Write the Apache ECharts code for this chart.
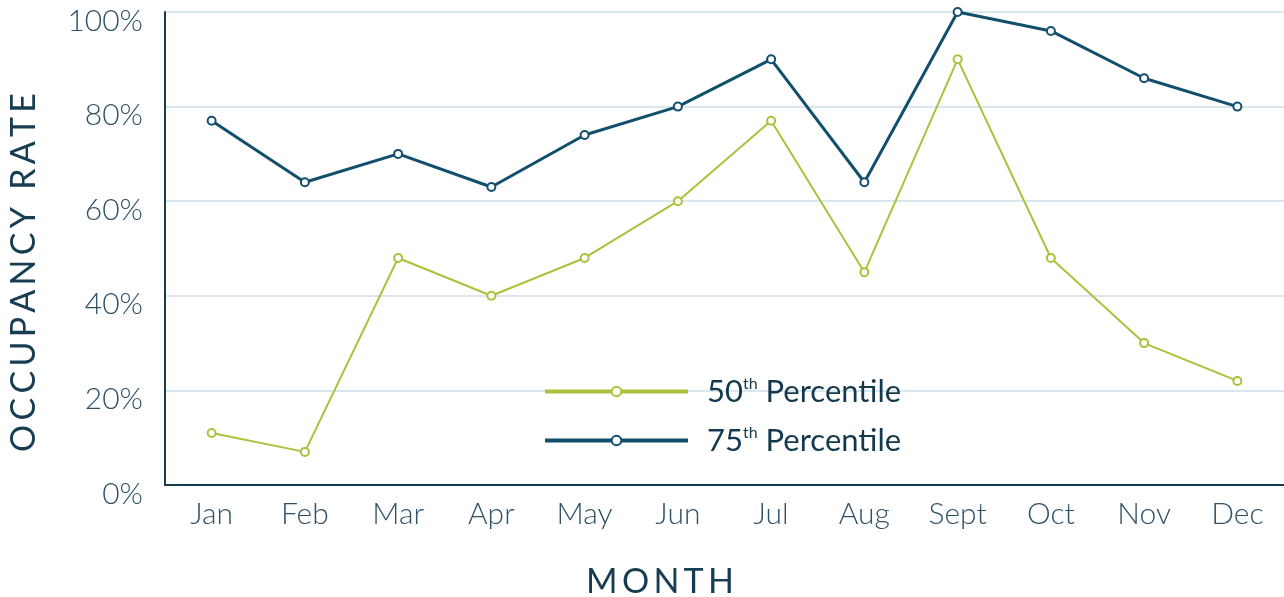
<!DOCTYPE html>
<html><head><meta charset="utf-8">
<script src="https://cdn.jsdelivr.net/npm/echarts@6/dist/echarts.min.js"></script>
<style>html,body{margin:0;padding:0;background:#fff}#c{width:1284px;height:597px}</style>
</head><body><div id="c"></div>
<script>
const months = ['Jan','Feb','Mar','Apr','May','Jun','Jul','Aug','Sept','Oct','Nov','Dec'];
const p50 = [11, 7, 48, 40, 48, 60, 77, 45, 90, 48, 30, 22];
const p75 = [77, 64, 70, 63, 74, 80, 90, 64, 100, 96, 86, 80];
const yTicks = [0, 20, 40, 60, 80, 100];
const seriesNames = ['50th Percentile', '75th Percentile'];

const green = '#a9c23c', blue = '#124f6d', axisCol = '#173d52', txt = '#2f5166';
const spaced = s => s.split('').join('\u2009');

const chart = echarts.init(document.getElementById('c'));
chart.setOption({
  animation: false,
  grid: {left: 165, right: 0, top: 12, bottom: 112, outerBoundsMode: 'none', containLabel: false},
  legend: {
    orient: 'vertical', left: 538, top: 371, itemGap: 18,
    itemWidth: 143, itemHeight: 12,
    data: seriesNames,
    lineStyle: {width: 4},
    itemStyle: {borderWidth: 3},
    formatter: n => '{a|' + n.slice(0, 2) + '}{s|th}{a|' + n.slice(4) + '}',
    textStyle: {
      padding: [0, 0, 0, 14],
      rich: {
        a: {fontFamily: 'Lato', fontSize: 31, color: '#14384e'},
        s: {fontFamily: 'Lato', fontSize: 16, color: '#14384e', verticalAlign: 'top', padding: [0, 0, 12, 0]}
      }
    }
  },
  xAxis: {
    type: 'category', data: months, boundaryGap: true,
    name: spaced('MONTH'), nameLocation: 'middle', nameGap: 80,
    nameTextStyle: {fontFamily: 'Lato', fontSize: 34, color: axisCol, padding: [0, 129, 0, 0]},
    axisLine: {lineStyle: {color: axisCol, width: 2}},
    axisTick: {show: false},
    axisLabel: {fontFamily: 'Lato', fontWeight: 300, fontSize: 30, color: txt, margin: 14}
  },
  yAxis: {
    type: 'value', min: 0, max: 100, interval: 20,
    name: spaced('OCCUPANCY RATE'), nameLocation: 'middle', nameGap: 124,
    nameTextStyle: {fontFamily: 'Lato', fontSize: 34, color: axisCol, padding: [0, 48, 0, 0]},
    axisLine: {show: true, lineStyle: {color: axisCol, width: 2}},
    axisTick: {show: false},
    splitLine: {lineStyle: {color: '#d9e8ef', width: 2}},
    axisLabel: {
      margin: 22,
      formatter: v => yTicks.includes(v) ? '{v|' + v + '%}' : '',
      rich: {
        v: {fontFamily: 'Lato', fontWeight: 300, fontSize: 30, color: txt, padding: [18, 0, 0, 0]}
      }
    }
  },
  series: [
    {
      name: seriesNames[0], type: 'line', data: p50,
      symbol: 'emptyCircle', symbolSize: 8,
      lineStyle: {color: green, width: 2},
      itemStyle: {color: green, borderWidth: 3},
      z: 2
    },
    {
      name: seriesNames[1], type: 'line', data: p75,
      symbol: 'emptyCircle', symbolSize: 8,
      lineStyle: {color: blue, width: 3},
      itemStyle: {color: blue, borderWidth: 3},
      z: 3
    }
  ]
});
</script></body></html>
